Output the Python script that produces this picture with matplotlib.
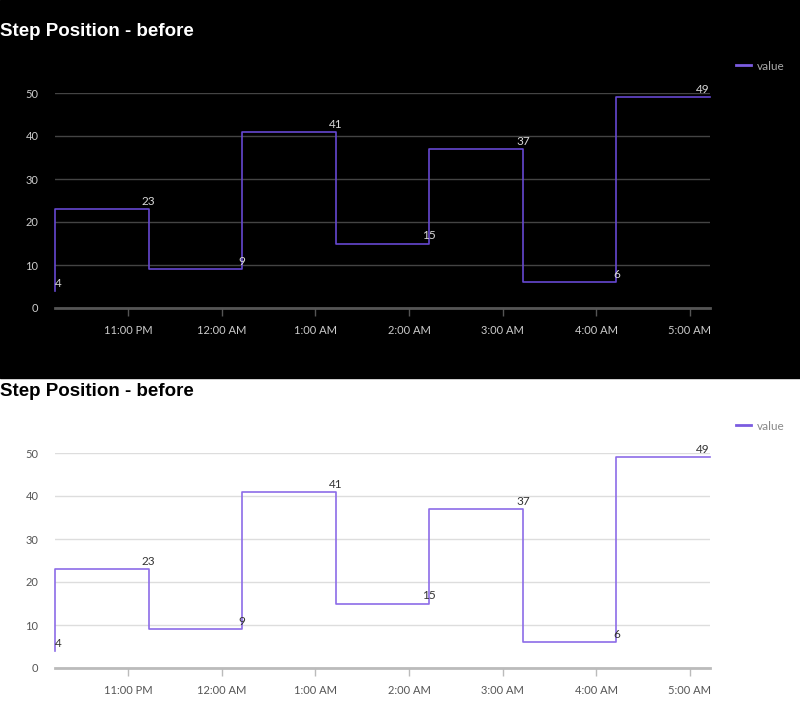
import matplotlib
matplotlib.use('Agg')
import matplotlib.pyplot as plt
import matplotlib.dates as mdates
from matplotlib.patches import Rectangle
import numpy as np

times = np.array(['2024-01-01T22:13', '2024-01-01T23:13', '2024-01-02T00:13', '2024-01-02T01:13',
                  '2024-01-02T02:13', '2024-01-02T03:13', '2024-01-02T04:13', '2024-01-02T05:13'],
                 dtype='datetime64[m]')
values = [4, 23, 9, 41, 15, 37, 6, 49]
title = 'Step Position - before'
series_name = 'value'
y_ticks = [0, 10, 20, 30, 40, 50]

plt.rcParams['font.family'] = ['Lato', 'DejaVu Sans']

fig = plt.figure(figsize=(8, 7.19), dpi=100)
fig.patches.append(Rectangle((0, 1 - 378 / 719), 1, 378 / 719, transform=fig.transFigure,
                             color='black', zorder=-10))

def hourfmt(x, pos=None):
    d = mdates.num2date(x)
    h = d.hour % 12
    if h == 0:
        h = 12
    return '%d:%02d %s' % (h, d.minute, 'AM' if d.hour < 12 else 'PM')

def panel(top_px, dark):
    fg = '#d9d9d9' if dark else '#333333'
    tick_c = '#cccccc' if dark else '#555555'
    grid_c = '#444444' if dark else '#dddddd'
    axis_c = '#555555' if dark else '#bbbbbb'
    line_c = '#6548d0' if dark else '#8c6ce8'
    bottom = (719 - (top_px + 308)) / 719
    ax = fig.add_axes([55 / 800, bottom, 655 / 800, 215 / 719])
    ax.set_facecolor('none')
    x = mdates.date2num(times.astype('datetime64[s]').astype(object))
    ax.plot(x, values, drawstyle='steps-pre', color=line_c, lw=1.2, label=series_name, clip_on=False)
    n = len(values)
    for i, (xi, v) in enumerate(zip(x, values)):
        ha = 'left' if i == 0 else ('right' if i == n - 1 else 'center')
        ax.annotate(str(v), (xi, v), xytext=(0, 1.5), textcoords='offset points', ha=ha, va='bottom',
                    color=fg, fontsize=8.5)
    ax.set_xlim(x[0], x[-1])
    ax.set_ylim(0, 50)
    ax.set_yticks(y_ticks)
    ax.xaxis.set_major_locator(mdates.HourLocator())
    ax.xaxis.set_major_formatter(plt.FuncFormatter(hourfmt))
    for s in ['top', 'right', 'left']:
        ax.spines[s].set_visible(False)
    ax.spines['bottom'].set_color(axis_c)
    ax.spines['bottom'].set_linewidth(2)
    ax.grid(axis='y', color=grid_c, lw=1)
    ax.set_axisbelow(True)
    ax.tick_params(axis='y', length=0, pad=12, labelcolor=tick_c, labelsize=8)
    ax.tick_params(axis='x', length=6, width=1, color=axis_c, pad=6, labelcolor=tick_c, labelsize=8)
    leg = ax.legend(loc='upper left', bbox_to_anchor=(1.024, 1.20), frameon=False, fontsize=8.5,
                    handlelength=1.2, handletextpad=0.5)
    for t in leg.get_texts():
        t.set_color('#aaaaaa' if dark else '#888888')
    for h in leg.get_lines():
        h.set_linewidth(2)
        h.set_color('#7b5ce0')
    fig.text(0, 1 - (top_px + 31) / 719, title, ha='left', va='center', fontsize=13.5,
             fontweight='bold', family='Liberation Sans', color='white' if dark else 'black')

panel(0, True)
panel(360, False)

fig.savefig('out.png', dpi=100)
